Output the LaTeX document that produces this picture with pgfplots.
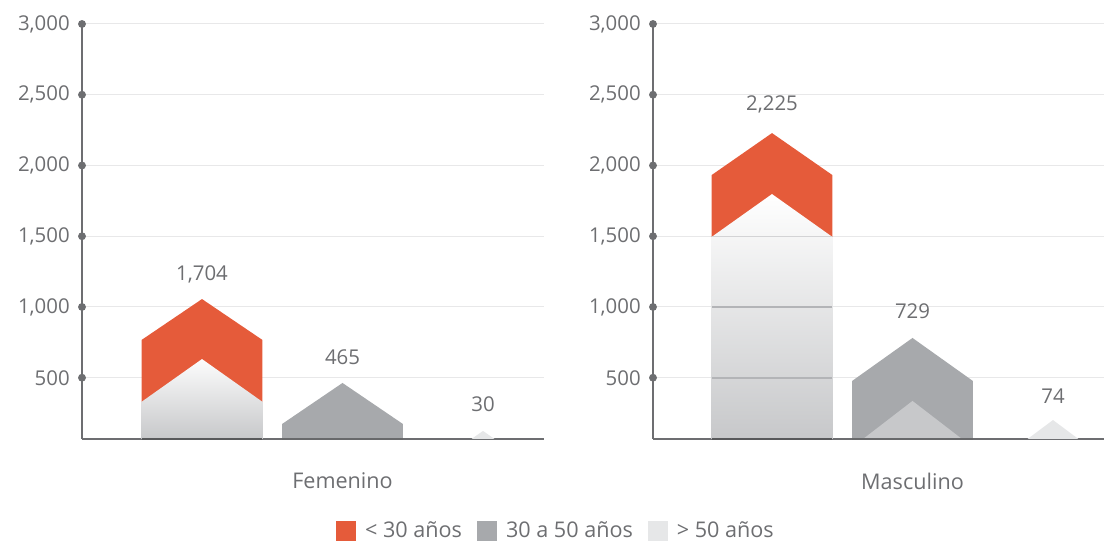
\documentclass[border=0pt]{standalone}
\usepackage{fontspec}
\setmainfont{Open Sans}
\usepackage{pgfplots}
\pgfplotsset{compat=1.18}

\definecolor{txt}{HTML}{6D6E71}
\definecolor{base}{HTML}{58595B}
\definecolor{naranja}{HTML}{E55B3A}
\definecolor{gris}{HTML}{A7A9AC}
\definecolor{claro}{HTML}{E6E7E8}
\definecolor{interior}{HTML}{C7C8CA}
\definecolor{rejilla}{HTML}{E8E8E9}
\definecolor{sombra}{HTML}{B3B4B7}

\newcommand{\lbl}{\fontsize{10.2}{12}\selectfont}
\newcommand{\lblg}{\fontsize{10.8}{13}\selectfont}

\pgfplotsset{
  panel/.style={
    scale only axis, height=207.5pt,
    ymin=67, ymax=3000,
    ytick={500,1000,1500,2000,2500,3000},
    xtick={2},
    ymajorgrids, grid style={rejilla, line width=0.5pt},
    axis x line*=bottom, axis y line*=left,
    axis line style={txt, line width=1pt, -},
    major tick length=0pt,
    /pgf/number format/1000 sep={,},
    /pgf/number format/assume math mode=true,
    tick label style={txt, font=\lbl},
    yticklabel style={xshift=-2.6pt},
    xticklabel style={yshift=-13.5pt, font=\lblg},
    clip=false, anchor=south west,
  },
}

\begin{document}
\begin{tikzpicture}
\useasboundingbox (0,0) rectangle (552pt,272.5pt);

% Femenino
\begin{axis}[panel, at={(41pt,53pt)}, width=231pt,
  xmin=0.146, xmax=3.434, xticklabels={Femenino},
  legend style={at={(1.028,-0.221)}, anchor=center, draw=none, fill=none,
    legend columns=3, font=\lblg, text=txt,
    /tikz/every odd column/.append style={column sep=2.5pt},
    /tikz/every even column/.append style={column sep=5.5pt}},
  legend image code/.code={\fill[#1] (0pt,-5pt) rectangle (10pt,5pt);}]
  \addplot[fill=naranja, draw=none] coordinates {(0.57,67) (0.57,767) (1,1056) (1.43,767) (1.43,67)} -- cycle;
  \addplot[fill=gris, draw=none] coordinates {(1.57,67) (1.57,173) (2,463) (2.43,173) (2.43,67)} -- cycle;
  \addplot[fill=claro, draw=none] coordinates {(2.918,67) (3,124) (3.082,67)} -- cycle;
  \addplot[forget plot, draw=none, top color=white!95!interior, bottom color=interior] coordinates {(0.566,67) (0.566,327) (1,632) (1.434,327) (1.434,67)} -- cycle;
  \addplot[forget plot, base, line width=1.2pt] coordinates {(0.57,67) (1.43,67)};
  \addplot[forget plot, base!80!gris, line width=1.2pt] coordinates {(1.57,67) (2.43,67)};
  \addplot[forget plot, only marks, mark=*, mark size=1.75pt, txt] coordinates {(0.146,500) (0.146,1000) (0.146,1500) (0.146,2000) (0.146,2500) (0.146,3000)};
  \node[txt, font=\lbl] at (axis cs:1,1233) {1,704};
  \node[txt, font=\lbl] at (axis cs:2,646) {465};
  \node[txt, font=\lbl] at (axis cs:3,314) {30};
  \legend{< 30 años, 30 a 50 años, > 50 años}
\end{axis}

% Masculino
\begin{axis}[panel, at={(326.5pt,53pt)}, width=225.5pt,
  xmin=0.153, xmax=3.363, xticklabels={Masculino}]
  \addplot[fill=naranja, draw=none] coordinates {(0.57,67) (0.57,1932) (1,2229) (1.43,1932) (1.43,67)} -- cycle;
  \addplot[draw=none, top color=white, bottom color=interior] coordinates {(0.566,67) (0.566,1492) (1,1798) (1.434,1492) (1.434,67)} -- cycle;
  \addplot[sombra, line width=0.8pt] coordinates {(0.57,500) (1.43,500)};
  \addplot[sombra, line width=0.8pt] coordinates {(0.57,1000) (1.43,1000)};
  \addplot[rejilla!60!sombra, line width=0.5pt] coordinates {(0.57,1500) (1.43,1500)};
  \addplot[fill=gris, draw=none] coordinates {(1.57,67) (1.57,477) (2,781) (2.43,477) (2.43,67)} -- cycle;
  \addplot[fill=interior, draw=none] coordinates {(1.648,67) (2,336) (2.352,67)} -- cycle;
  \addplot[fill=claro, draw=none] coordinates {(2.819,67) (3,201) (3.181,67)} -- cycle;
  \addplot[base, line width=1.2pt] coordinates {(0.57,67) (1.43,67)};
  \addplot[base!80!gris, line width=1.2pt] coordinates {(1.57,67) (2.43,67)};
  \addplot[only marks, mark=*, mark size=1.75pt, txt] coordinates {(0.153,500) (0.153,1000) (0.153,1500) (0.153,2000) (0.153,2500) (0.153,3000)};
  \node[txt, font=\lbl] at (axis cs:1,2434) {2,225};
  \node[txt, font=\lbl] at (axis cs:2,971) {729};
  \node[txt, font=\lbl] at (axis cs:3,371) {74};
\end{axis}
\end{tikzpicture}
\end{document}
